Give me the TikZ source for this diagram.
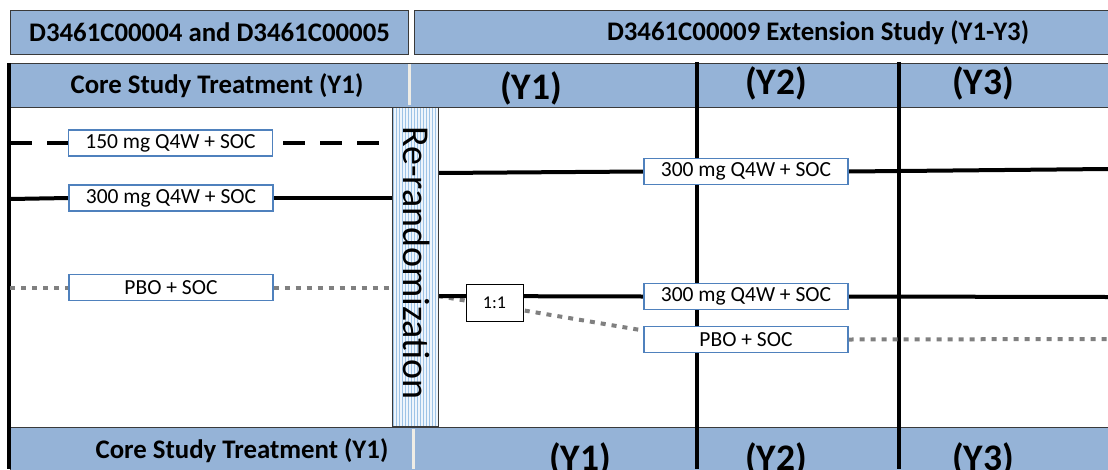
\documentclass[tikz,border=0pt]{standalone}
\usepackage{fontspec}
\setmainfont{Carlito}
\definecolor{hdrblue}{HTML}{95B3D7}
\definecolor{hdrborder}{HTML}{3A3A3A}
\definecolor{boxblue}{HTML}{4F81BD}
\definecolor{dotgray}{HTML}{808080}
\definecolor{sepgray}{HTML}{EFEDE6}
\definecolor{stripeblue}{HTML}{9DC3E6}
\definecolor{rrfill}{HTML}{EEF5FC}
\pgfdeclarelayer{front}
\pgfsetlayers{main,front}
\begin{document}
\begin{tikzpicture}[x=1pt,y=-1pt,
  hdr/.style={fill=hdrblue, draw=hdrborder, line width=1pt, inner sep=0pt},
  hdrtext/.style={font=\bfseries\fontsize{26.8}{30}\selectfont, inner sep=0pt},
  yeartext/.style={font=\bfseries\fontsize{37.5}{40}\selectfont, inner sep=0pt},
  armbox/.style={draw=boxblue, line width=1.3pt, fill=white, minimum width=204pt, minimum height=26pt, inner sep=0pt, font=\fontsize{21.5}{23}\selectfont},
  ratiobox/.style={draw=black, line width=1pt, fill=white, minimum width=57pt, minimum height=37pt, inner sep=0pt, font=\fontsize{18}{20}\selectfont},
  solidarm/.style={draw=black, line width=4pt},
  dotarm/.style={draw=dotgray, line width=4pt, dash pattern=on 5pt off 6pt},
  dasharm/.style={draw=black, line width=4pt, dash pattern=on 22pt off 15pt},
  divider/.style={draw=black, line width=4pt},
  sepline/.style={draw=sepgray, line width=3pt},
  stripe/.style={draw=stripeblue, line width=0.5pt},
  rrbox/.style={draw=hdrborder, line width=0.8pt, fill=rrfill, inner sep=0pt,
    path picture={\foreach \i in {1.5,4.5,...,46}
      \draw[stripe] ([xshift=\i pt]path picture bounding box.north west) -- ([xshift=\i pt]path picture bounding box.south west);}}
]
\clip (0,0) rectangle (1108,469);
\fill[white] (0,0) rectangle (1108,469);

% header boxes
\node[hdr, anchor=north west, minimum width=398pt, minimum height=44pt] (hcore) at (10,10) {};
\node[hdrtext] (thcore) at (hcore.center) {D3461C00004 and D3461C00005};
\node[hdr, anchor=north west, minimum width=800pt, minimum height=44pt] (hext) at (414,10) {};
\node[hdrtext] (thext) at (818,33) {D3461C00009 Extension Study (Y1-Y3)};

% period bars
\node[hdr, anchor=north west, minimum width=1110pt, minimum height=44pt] (row1) at (10,63) {};
\node[hdr, anchor=north west, minimum width=1110pt, minimum height=50pt] (row2) at (10,427) {};
\draw[sepline] (409,64) -- (409,105);
\draw[sepline] (413,429) -- (413,469);

\node[hdrtext] (tcore1) at (217,86) {Core Study Treatment (Y1)};
\node[yeartext] (ty1) at (531,88) {(Y1)};
\node[yeartext] (ty2) at (776,83) {(Y2)};
\node[yeartext] (ty3) at (983,83) {(Y3)};
\node[hdrtext] (tcore2) at (242,451) {Core Study Treatment (Y1)};
\node[yeartext] (by1) at (580,459) {(Y1)};
\node[yeartext] (by2) at (776,459) {(Y2)};
\node[yeartext] (by3) at (983,459) {(Y3)};

% year dividers
\draw[divider] (9,63) -- (9,469);
\draw[divider] (697,62) -- (697,469);
\draw[divider] (899,62) -- (899,469);

\begin{pgfonlayer}{front}
% re-randomization
\node[rrbox, minimum width=46pt, minimum height=319pt] (rr) at (415,266.5) {};
\node[rotate=-90, inner sep=0pt, font=\fontsize{38}{40}\selectfont] (rrt) at (417,263) {Re-randomization};

% arm boxes
\node[armbox] (a150) at (170.5,143) {150 mg Q4W + SOC};
\node[armbox] (a300) at (171,198) {300 mg Q4W + SOC};
\node[armbox] (apbo) at (171,287.5) {PBO + SOC};
\node[armbox] (e300a) at (746,171.5) {300 mg Q4W + SOC};
\node[armbox] (e300b) at (746,296.5) {300 mg Q4W + SOC};
\node[armbox] (epbo) at (746,339.5) {PBO + SOC};
\node[ratiobox] (r11) at (494.5,302.5) {1:1};
\end{pgfonlayer}

% connector end points
\coordinate (l150) at (10,143);
\coordinate (l300) at (10,199);
\coordinate (lpbo) at (10,287.5);
\coordinate (rrU) at (438,173);
\coordinate (rrL) at (438,296);
\coordinate (endU) at (1108,169);
\coordinate (endL) at (1108,297);
\coordinate (endP) at (1108,339);

\draw[dasharm] (l150) -- (a150.west);
\draw[dasharm, dash phase=27pt] (a150.east) -- (rr.west |- a150);
\draw[solidarm] (l300) -- (a300.west);
\draw[solidarm] (a300.east) -- (rr.west |- a300);
\draw[dotarm] (lpbo) -- (apbo.west);
\draw[dotarm] (apbo.east) -- (rr.west |- apbo);
\draw[solidarm] (rrU) -- (e300a.west);
\draw[solidarm] (e300a.east) -- (endU);
\draw[dotarm] (rrL) -- ([yshift=9pt]epbo.west);
\draw[solidarm] (rrL) -- (e300b.west);
\draw[solidarm] (e300b.east) -- (endL);
\draw[dotarm] (epbo.east) -- (endP);
\end{tikzpicture}
\end{document}
